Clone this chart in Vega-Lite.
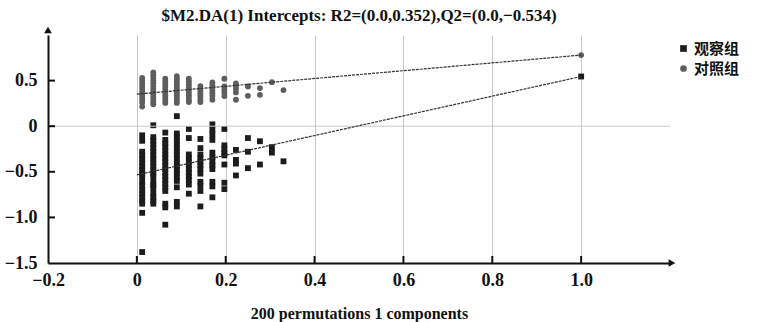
{
  "$schema": "https://vega.github.io/schema/vega-lite/v6.json",
  "width": 622,
  "height": 228,
  "autosize": {"type": "none"},
  "padding": {"left": 48, "top": 35, "right": 91, "bottom": 59},
  "background": "white",
  "title": {"text": "$M2.DA(1) Intercepts: R2=(0.0,0.352),Q2=(0.0,−0.534)", "font": "Liberation Serif", "fontSize": 17, "fontWeight": "bold", "color": "#111", "offset": 2, "anchor": "middle"},
  "config": {
    "view": {"stroke": null},
    "axis": {"ticks": false, "labelFlush": false, "labelFont": "Liberation Serif", "labelFontSize": 18, "labelFontWeight": "bold", "labelColor": "#111", "titleFont": "Liberation Serif", "titleFontSize": 16, "titleFontWeight": "bold", "titleColor": "#111", "domainColor": "#111", "domainWidth": 2}
  },
  "datasets": {
    "pts": [
      {"x":0.012,"y":-0.10,"g":"观察组"},{"x":0.012,"y":-0.16,"g":"观察组"},{"x":0.012,"y":-0.28,"g":"观察组"},{"x":0.012,"y":-0.32,"g":"观察组"},{"x":0.012,"y":-0.36,"g":"观察组"},{"x":0.012,"y":-0.40,"g":"观察组"},{"x":0.012,"y":-0.44,"g":"观察组"},{"x":0.012,"y":-0.48,"g":"观察组"},{"x":0.012,"y":-0.52,"g":"观察组"},{"x":0.012,"y":-0.55,"g":"观察组"},{"x":0.012,"y":-0.61,"g":"观察组"},{"x":0.012,"y":-0.65,"g":"观察组"},{"x":0.012,"y":-0.70,"g":"观察组"},{"x":0.012,"y":-0.74,"g":"观察组"},{"x":0.012,"y":-0.78,"g":"观察组"},{"x":0.012,"y":-0.82,"g":"观察组"},{"x":0.012,"y":-0.85,"g":"观察组"},{"x":0.012,"y":-0.95,"g":"观察组"},{"x":0.012,"y":-1.38,"g":"观察组"},
      {"x":0.037,"y":0.01,"g":"观察组"},{"x":0.037,"y":-0.12,"g":"观察组"},{"x":0.037,"y":-0.16,"g":"观察组"},{"x":0.037,"y":-0.20,"g":"观察组"},{"x":0.037,"y":-0.24,"g":"观察组"},{"x":0.037,"y":-0.28,"g":"观察组"},{"x":0.037,"y":-0.32,"g":"观察组"},{"x":0.037,"y":-0.36,"g":"观察组"},{"x":0.037,"y":-0.40,"g":"观察组"},{"x":0.037,"y":-0.44,"g":"观察组"},{"x":0.037,"y":-0.48,"g":"观察组"},{"x":0.037,"y":-0.52,"g":"观察组"},{"x":0.037,"y":-0.55,"g":"观察组"},{"x":0.037,"y":-0.61,"g":"观察组"},{"x":0.037,"y":-0.645,"g":"观察组"},{"x":0.037,"y":-0.68,"g":"观察组"},{"x":0.037,"y":-0.74,"g":"观察组"},{"x":0.037,"y":-0.78,"g":"观察组"},{"x":0.037,"y":-0.82,"g":"观察组"},{"x":0.037,"y":-0.85,"g":"观察组"},
      {"x":0.064,"y":-0.07,"g":"观察组"},{"x":0.064,"y":-0.15,"g":"观察组"},{"x":0.064,"y":-0.19,"g":"观察组"},{"x":0.064,"y":-0.23,"g":"观察组"},{"x":0.064,"y":-0.27,"g":"观察组"},{"x":0.064,"y":-0.31,"g":"观察组"},{"x":0.064,"y":-0.35,"g":"观察组"},{"x":0.064,"y":-0.39,"g":"观察组"},{"x":0.064,"y":-0.43,"g":"观察组"},{"x":0.064,"y":-0.47,"g":"观察组"},{"x":0.064,"y":-0.51,"g":"观察组"},{"x":0.064,"y":-0.55,"g":"观察组"},{"x":0.064,"y":-0.59,"g":"观察组"},{"x":0.064,"y":-0.63,"g":"观察组"},{"x":0.064,"y":-0.67,"g":"观察组"},{"x":0.064,"y":-0.71,"g":"观察组"},{"x":0.064,"y":-0.85,"g":"观察组"},{"x":0.064,"y":-0.89,"g":"观察组"},{"x":0.064,"y":-1.08,"g":"观察组"},
      {"x":0.09,"y":0.11,"g":"观察组"},{"x":0.09,"y":-0.08,"g":"观察组"},{"x":0.09,"y":-0.12,"g":"观察组"},{"x":0.09,"y":-0.16,"g":"观察组"},{"x":0.09,"y":-0.20,"g":"观察组"},{"x":0.09,"y":-0.24,"g":"观察组"},{"x":0.09,"y":-0.28,"g":"观察组"},{"x":0.09,"y":-0.32,"g":"观察组"},{"x":0.09,"y":-0.36,"g":"观察组"},{"x":0.09,"y":-0.40,"g":"观察组"},{"x":0.09,"y":-0.44,"g":"观察组"},{"x":0.09,"y":-0.48,"g":"观察组"},{"x":0.09,"y":-0.52,"g":"观察组"},{"x":0.09,"y":-0.56,"g":"观察组"},{"x":0.09,"y":-0.60,"g":"观察组"},{"x":0.09,"y":-0.67,"g":"观察组"},{"x":0.09,"y":-0.83,"g":"观察组"},{"x":0.09,"y":-0.88,"g":"观察组"},
      {"x":0.117,"y":-0.03,"g":"观察组"},{"x":0.117,"y":-0.13,"g":"观察组"},{"x":0.117,"y":-0.31,"g":"观察组"},{"x":0.117,"y":-0.35,"g":"观察组"},{"x":0.117,"y":-0.39,"g":"观察组"},{"x":0.117,"y":-0.43,"g":"观察组"},{"x":0.117,"y":-0.47,"g":"观察组"},{"x":0.117,"y":-0.51,"g":"观察组"},{"x":0.117,"y":-0.55,"g":"观察组"},{"x":0.117,"y":-0.59,"g":"观察组"},{"x":0.117,"y":-0.64,"g":"观察组"},{"x":0.117,"y":-0.74,"g":"观察组"},
      {"x":0.143,"y":-0.14,"g":"观察组"},{"x":0.143,"y":-0.24,"g":"观察组"},{"x":0.143,"y":-0.31,"g":"观察组"},{"x":0.143,"y":-0.35,"g":"观察组"},{"x":0.143,"y":-0.39,"g":"观察组"},{"x":0.143,"y":-0.43,"g":"观察组"},{"x":0.143,"y":-0.47,"g":"观察组"},{"x":0.143,"y":-0.52,"g":"观察组"},{"x":0.143,"y":-0.61,"g":"观察组"},{"x":0.143,"y":-0.65,"g":"观察组"},{"x":0.143,"y":-0.71,"g":"观察组"},{"x":0.143,"y":-0.88,"g":"观察组"},
      {"x":0.17,"y":0.02,"g":"观察组"},{"x":0.17,"y":-0.04,"g":"观察组"},{"x":0.17,"y":-0.09,"g":"观察组"},{"x":0.17,"y":-0.15,"g":"观察组"},{"x":0.17,"y":-0.29,"g":"观察组"},{"x":0.17,"y":-0.34,"g":"观察组"},{"x":0.17,"y":-0.39,"g":"观察组"},{"x":0.17,"y":-0.43,"g":"观察组"},{"x":0.17,"y":-0.47,"g":"观察组"},{"x":0.17,"y":-0.61,"g":"观察组"},{"x":0.17,"y":-0.66,"g":"观察组"},{"x":0.17,"y":-0.78,"g":"观察组"},
      {"x":0.197,"y":-0.03,"g":"观察组"},{"x":0.197,"y":-0.21,"g":"观察组"},{"x":0.197,"y":-0.25,"g":"观察组"},{"x":0.197,"y":-0.29,"g":"观察组"},{"x":0.197,"y":-0.32,"g":"观察组"},{"x":0.197,"y":-0.42,"g":"观察组"},{"x":0.197,"y":-0.62,"g":"观察组"},{"x":0.197,"y":-0.69,"g":"观察组"},
      {"x":0.223,"y":-0.26,"g":"观察组"},{"x":0.223,"y":-0.37,"g":"观察组"},{"x":0.223,"y":-0.41,"g":"观察组"},{"x":0.223,"y":-0.54,"g":"观察组"},
      {"x":0.25,"y":-0.13,"g":"观察组"},{"x":0.25,"y":-0.28,"g":"观察组"},{"x":0.25,"y":-0.46,"g":"观察组"},
      {"x":0.277,"y":-0.165,"g":"观察组"},{"x":0.277,"y":-0.42,"g":"观察组"},
      {"x":0.304,"y":-0.23,"g":"观察组"},{"x":0.304,"y":-0.29,"g":"观察组"},
      {"x":0.33,"y":-0.385,"g":"观察组"},
      {"x":1.0,"y":0.545,"g":"观察组"},
      {"x":0.012,"y":0.53,"g":"对照组"},{"x":0.012,"y":0.50,"g":"对照组"},{"x":0.012,"y":0.47,"g":"对照组"},{"x":0.012,"y":0.44,"g":"对照组"},{"x":0.012,"y":0.41,"g":"对照组"},{"x":0.012,"y":0.38,"g":"对照组"},{"x":0.012,"y":0.35,"g":"对照组"},{"x":0.012,"y":0.32,"g":"对照组"},{"x":0.012,"y":0.29,"g":"对照组"},{"x":0.012,"y":0.26,"g":"对照组"},{"x":0.012,"y":0.215,"g":"对照组"},
      {"x":0.037,"y":0.59,"g":"对照组"},{"x":0.037,"y":0.56,"g":"对照组"},{"x":0.037,"y":0.53,"g":"对照组"},{"x":0.037,"y":0.50,"g":"对照组"},{"x":0.037,"y":0.47,"g":"对照组"},{"x":0.037,"y":0.44,"g":"对照组"},{"x":0.037,"y":0.41,"g":"对照组"},{"x":0.037,"y":0.38,"g":"对照组"},{"x":0.037,"y":0.35,"g":"对照组"},{"x":0.037,"y":0.32,"g":"对照组"},{"x":0.037,"y":0.29,"g":"对照组"},{"x":0.037,"y":0.26,"g":"对照组"},{"x":0.037,"y":0.24,"g":"对照组"},
      {"x":0.064,"y":0.52,"g":"对照组"},{"x":0.064,"y":0.49,"g":"对照组"},{"x":0.064,"y":0.46,"g":"对照组"},{"x":0.064,"y":0.43,"g":"对照组"},{"x":0.064,"y":0.40,"g":"对照组"},{"x":0.064,"y":0.37,"g":"对照组"},{"x":0.064,"y":0.34,"g":"对照组"},{"x":0.064,"y":0.31,"g":"对照组"},{"x":0.064,"y":0.28,"g":"对照组"},{"x":0.064,"y":0.255,"g":"对照组"},
      {"x":0.09,"y":0.55,"g":"对照组"},{"x":0.09,"y":0.52,"g":"对照组"},{"x":0.09,"y":0.49,"g":"对照组"},{"x":0.09,"y":0.46,"g":"对照组"},{"x":0.09,"y":0.43,"g":"对照组"},{"x":0.09,"y":0.40,"g":"对照组"},{"x":0.09,"y":0.37,"g":"对照组"},{"x":0.09,"y":0.34,"g":"对照组"},{"x":0.09,"y":0.31,"g":"对照组"},{"x":0.09,"y":0.28,"g":"对照组"},{"x":0.09,"y":0.255,"g":"对照组"},
      {"x":0.117,"y":0.52,"g":"对照组"},{"x":0.117,"y":0.49,"g":"对照组"},{"x":0.117,"y":0.46,"g":"对照组"},{"x":0.117,"y":0.43,"g":"对照组"},{"x":0.117,"y":0.40,"g":"对照组"},{"x":0.117,"y":0.37,"g":"对照组"},{"x":0.117,"y":0.34,"g":"对照组"},{"x":0.117,"y":0.31,"g":"对照组"},{"x":0.117,"y":0.28,"g":"对照组"},{"x":0.117,"y":0.265,"g":"对照组"},
      {"x":0.143,"y":0.44,"g":"对照组"},{"x":0.143,"y":0.41,"g":"对照组"},{"x":0.143,"y":0.38,"g":"对照组"},{"x":0.143,"y":0.35,"g":"对照组"},{"x":0.143,"y":0.32,"g":"对照组"},{"x":0.143,"y":0.29,"g":"对照组"},{"x":0.143,"y":0.265,"g":"对照组"},
      {"x":0.17,"y":0.48,"g":"对照组"},{"x":0.17,"y":0.45,"g":"对照组"},{"x":0.17,"y":0.42,"g":"对照组"},{"x":0.17,"y":0.39,"g":"对照组"},{"x":0.17,"y":0.36,"g":"对照组"},{"x":0.17,"y":0.33,"g":"对照组"},{"x":0.17,"y":0.29,"g":"对照组"},
      {"x":0.197,"y":0.52,"g":"对照组"},{"x":0.197,"y":0.435,"g":"对照组"},{"x":0.197,"y":0.40,"g":"对照组"},{"x":0.197,"y":0.37,"g":"对照组"},{"x":0.197,"y":0.33,"g":"对照组"},
      {"x":0.223,"y":0.47,"g":"对照组"},{"x":0.223,"y":0.44,"g":"对照组"},{"x":0.223,"y":0.41,"g":"对照组"},{"x":0.223,"y":0.37,"g":"对照组"},{"x":0.223,"y":0.29,"g":"对照组"},
      {"x":0.25,"y":0.435,"g":"对照组"},{"x":0.25,"y":0.333,"g":"对照组"},
      {"x":0.277,"y":0.418,"g":"对照组"},{"x":0.277,"y":0.344,"g":"对照组"},
      {"x":0.304,"y":0.483,"g":"对照组"},
      {"x":0.33,"y":0.396,"g":"对照组"},
      {"x":1.0,"y":0.78,"g":"对照组"}
    ],
    "fit": [
      {"s":"R2","x":0,"y":0.352},{"s":"R2","x":1.0,"y":0.78},
      {"s":"Q2","x":0,"y":-0.534},{"s":"Q2","x":1.0,"y":0.545}
    ],
    "zero": [{"y":0}],
    "xticks": [{"x":0,"y":-1.5},{"x":0.2,"y":-1.5},{"x":0.4,"y":-1.5},{"x":0.6,"y":-1.5},{"x":0.8,"y":-1.5},{"x":1.0,"y":-1.5}],
    "yticks": [{"x":-0.2,"y":0.5},{"x":-0.2,"y":0},{"x":-0.2,"y":-0.5},{"x":-0.2,"y":-1.0}],
    "topArrow": [{"x":-0.2,"y":1.0}],
    "rightArrow": [{"x":1.2,"y":-1.5}]
  },
  "layer": [
    {
      "data": {"name": "pts"},
      "mark": {"type": "point", "filled": true, "opacity": 1, "size": 34},
      "encoding": {
        "x": {"field": "x", "type": "quantitative", "scale": {"domain": [-0.2, 1.2], "nice": false, "zero": false},
          "axis": {"values": [-0.2, 0, 0.2, 0.4, 0.6, 0.8, 1.0], "labelExpr": "datum.value == 0 ? '0' : format(datum.value, '.1f')", "grid": true, "gridColor": "#c8c8c8", "gridWidth": 1, "labelPadding": 8, "labelFont": "Liberation Serif", "labelFontSize": 18, "labelFontWeight": "bold", "title": "200 permutations 1 components", "titleFont": "Liberation Serif", "titlePadding": 16}},
        "y": {"field": "y", "type": "quantitative", "scale": {"domain": [-1.5, 1.0], "nice": false, "zero": false},
          "axis": {"values": [-1.5, -1.0, -0.5, 0, 0.5], "labelExpr": "datum.value == 0 ? '0' : format(datum.value, '.1f')", "grid": false, "labelPadding": 11, "labelFont": "Liberation Serif", "labelFontSize": 18, "labelFontWeight": "bold", "title": null}},
        "color": {"field": "g", "type": "nominal", "scale": {"domain": ["观察组", "对照组"], "range": ["#1c1c1c", "#5e5e5e"]},
          "legend": {"title": null, "orient": "none", "legendX": 628, "legendY": 6, "labelFont": "Noto Sans CJK SC", "labelFontSize": 15, "labelFontWeight": "bold", "labelColor": "#111", "symbolSize": 45, "rowPadding": 4, "labelOffset": 3}},
        "shape": {"field": "g", "type": "nominal", "scale": {"domain": ["观察组", "对照组"], "range": ["square", "circle"]}}
      }
    },
    {
      "data": {"name": "zero"},
      "mark": {"type": "rule", "color": "#c8c8c8", "strokeWidth": 1},
      "encoding": {"y": {"field": "y", "type": "quantitative"}}
    },
    {
      "data": {"name": "fit"},
      "mark": {"type": "line", "color": "#333", "strokeWidth": 1.2, "strokeDash": [3, 1]},
      "encoding": {
        "x": {"field": "x", "type": "quantitative"},
        "y": {"field": "y", "type": "quantitative"},
        "detail": {"field": "s", "type": "nominal"}
      }
    },
    {
      "data": {"name": "xticks"},
      "mark": {"type": "tick", "orient": "vertical", "color": "#111", "size": 7, "thickness": 2, "opacity": 1, "yOffset": -3.5},
      "encoding": {"x": {"field": "x", "type": "quantitative"}, "y": {"field": "y", "type": "quantitative"}}
    },
    {
      "data": {"name": "yticks"},
      "mark": {"type": "tick", "orient": "horizontal", "color": "#111", "size": 7, "thickness": 2, "opacity": 1, "xOffset": 3.5},
      "encoding": {"x": {"field": "x", "type": "quantitative"}, "y": {"field": "y", "type": "quantitative"}}
    },
    {
      "data": {"name": "topArrow"},
      "mark": {"type": "point", "shape": "triangle-up", "filled": true, "color": "#111", "opacity": 1, "size": 60, "yOffset": -5},
      "encoding": {"x": {"field": "x", "type": "quantitative"}, "y": {"field": "y", "type": "quantitative"}}
    },
    {
      "data": {"name": "rightArrow"},
      "mark": {"type": "point", "shape": "triangle-right", "filled": true, "color": "#111", "opacity": 1, "size": 60, "xOffset": 2},
      "encoding": {"x": {"field": "x", "type": "quantitative"}, "y": {"field": "y", "type": "quantitative"}}
    }
  ]
}
